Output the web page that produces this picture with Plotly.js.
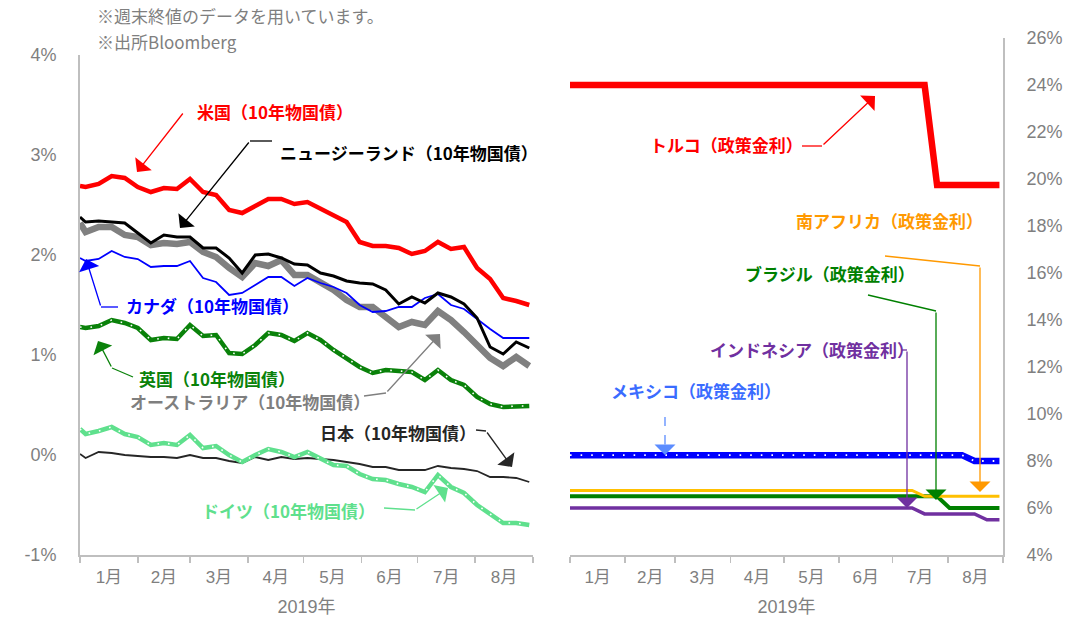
<!DOCTYPE html>
<html><head><meta charset="utf-8">
<script src="https://cdn.plot.ly/plotly-3.0.1.min.js"></script>
<style>body{margin:0;background:#fff}</style>
</head><body><div id="chart" style="width:1087px;height:622px"></div>
<script>
// ---- data ----
const dates=['2019-01-01','2019-01-04','2019-01-11','2019-01-18','2019-01-25','2019-02-01','2019-02-08','2019-02-15','2019-02-22','2019-03-01','2019-03-08','2019-03-15','2019-03-22','2019-03-29','2019-04-05','2019-04-12','2019-04-19','2019-04-26','2019-05-03','2019-05-10','2019-05-17','2019-05-24','2019-05-31','2019-06-07','2019-06-14','2019-06-21','2019-06-28','2019-07-05','2019-07-12','2019-07-19','2019-07-26','2019-08-02','2019-08-09','2019-08-16','2019-08-23','2019-08-30'];
const usBond=[2.69,2.68,2.71,2.79,2.77,2.68,2.63,2.67,2.66,2.76,2.63,2.60,2.45,2.42,2.49,2.56,2.56,2.51,2.53,2.46,2.39,2.33,2.13,2.09,2.09,2.07,2.01,2.04,2.13,2.06,2.08,1.87,1.76,1.57,1.54,1.50];
const nzBond=[2.38,2.33,2.34,2.33,2.32,2.22,2.12,2.20,2.18,2.18,2.07,2.07,1.97,1.82,2.00,2.01,1.97,1.91,1.90,1.82,1.79,1.74,1.72,1.71,1.65,1.51,1.58,1.52,1.62,1.58,1.51,1.37,1.08,1.01,1.13,1.07];
const auBond=[2.32,2.23,2.28,2.28,2.20,2.18,2.10,2.12,2.11,2.13,2.03,1.98,1.87,1.78,1.92,1.89,1.95,1.80,1.80,1.73,1.65,1.55,1.48,1.48,1.38,1.28,1.33,1.30,1.44,1.35,1.23,1.10,0.97,0.89,0.98,0.89];
const caBond=[1.97,1.94,1.96,2.04,1.98,1.96,1.88,1.89,1.89,1.94,1.77,1.73,1.60,1.62,1.70,1.78,1.78,1.69,1.77,1.72,1.68,1.62,1.50,1.43,1.44,1.48,1.48,1.57,1.61,1.50,1.46,1.36,1.26,1.17,1.17,1.17];
const ukBond=[1.28,1.27,1.29,1.35,1.32,1.27,1.15,1.17,1.16,1.30,1.19,1.20,1.02,1.01,1.10,1.22,1.20,1.14,1.22,1.15,1.05,0.97,0.88,0.82,0.85,0.84,0.83,0.75,0.85,0.75,0.70,0.58,0.51,0.48,0.49,0.49];
const deBond=[0.26,0.21,0.24,0.28,0.21,0.18,0.10,0.12,0.10,0.20,0.07,0.09,0.00,-0.07,0.00,0.06,0.03,-0.02,0.03,-0.04,-0.10,-0.11,-0.19,-0.24,-0.25,-0.29,-0.32,-0.37,-0.20,-0.32,-0.38,-0.50,-0.59,-0.68,-0.68,-0.70];
const jpBond=[0.01,-0.03,0.03,0.02,0.00,-0.01,-0.02,-0.02,-0.03,0.00,-0.03,-0.03,-0.06,-0.08,-0.02,-0.05,-0.02,-0.04,-0.03,-0.04,-0.05,-0.07,-0.09,-0.12,-0.12,-0.15,-0.15,-0.15,-0.11,-0.13,-0.14,-0.16,-0.22,-0.22,-0.23,-0.27];

const trRate=[24,24,24,24,24,24,24,24,24,24,24,24,24,24,24,24,24,24,24,24,24,24,24,24,24,24,24,24,24,24,19.75,19.75,19.75,19.75,19.75,19.75];
const mxRate=[8.25,8.25,8.25,8.25,8.25,8.25,8.25,8.25,8.25,8.25,8.25,8.25,8.25,8.25,8.25,8.25,8.25,8.25,8.25,8.25,8.25,8.25,8.25,8.25,8.25,8.25,8.25,8.25,8.25,8.25,8.25,8.25,8.25,8.0,8.0,8.0];
const zaRate=[6.75,6.75,6.75,6.75,6.75,6.75,6.75,6.75,6.75,6.75,6.75,6.75,6.75,6.75,6.75,6.75,6.75,6.75,6.75,6.75,6.75,6.75,6.75,6.75,6.75,6.75,6.75,6.75,6.75,6.5,6.5,6.5,6.5,6.5,6.5,6.5];
const brRate=[6.5,6.5,6.5,6.5,6.5,6.5,6.5,6.5,6.5,6.5,6.5,6.5,6.5,6.5,6.5,6.5,6.5,6.5,6.5,6.5,6.5,6.5,6.5,6.5,6.5,6.5,6.5,6.5,6.5,6.5,6.5,6.0,6.0,6.0,6.0,6.0];
const idRate=[6.0,6.0,6.0,6.0,6.0,6.0,6.0,6.0,6.0,6.0,6.0,6.0,6.0,6.0,6.0,6.0,6.0,6.0,6.0,6.0,6.0,6.0,6.0,6.0,6.0,6.0,6.0,6.0,6.0,5.75,5.75,5.75,5.75,5.75,5.5,5.5];

const leftTickVals=[-1,0,1,2,3,4];
const leftTickText=['-1%','0%','1%','2%','3%','4%'];
const rightTickVals=[4,6,8,10,12,14,16,18,20,22,24,26];
const rightTickText=['4%','6%','8%','10%','12%','14%','16%','18%','20%','22%','24%','26%'];

// ---- layout helpers (pixel -> paper) ----
const W=1087,H=622,L=80,R=84,T=38,B=67;
const PW=W-L-R, PH=H-T-B;
const px=x=>(x-L)/PW, py=y=>(H-B-y)/PH;
const JP="'Noto Sans CJK JP','Noto Sans',sans-serif";
const NUM="'Liberation Sans','Noto Sans CJK JP',sans-serif";

function tr(y,color,width,xa,ya,dash){
  return {x:dates,y:y,mode:'lines',xaxis:xa,yaxis:ya,hoverinfo:'skip',showlegend:false,
    line:{color:color,width:width,dash:dash||'solid',shape:'linear'}};
}
const dots=(y,xa,ya,w)=>tr(y,'#ffffff',w||1.6,xa,ya,'1.6px,9px');

const data=[
  tr(jpBond,'#262626',1.8,'x','y'),
  tr(deBond,'#5fe08d',4.5,'x','y'), dots(deBond,'x','y'),
  tr(ukBond,'#0a820a',4.5,'x','y'), dots(ukBond,'x','y'),
  tr(auBond,'#808080',6.5,'x','y'),
  tr(caBond,'#0000ff',1.8,'x','y'),
  tr(nzBond,'#000000',3,'x','y'),
  tr(usBond,'#ff0000',4.5,'x','y'),
  tr(idRate,'#7030a0',3.5,'x2','y2'),
  tr(brRate,'#008000',4,'x2','y2'),
  tr(zaRate,'#ffc000',3,'x2','y2'),
  tr(mxRate,'#0000ff',6.5,'x2','y2'), dots(mxRate,'x2','y2',1.8),
  tr(trRate,'#ff0000',6.5,'x2','y2')
];

// ---- annotations ----
const texts=[
  ['米国（10年物国債）',195,111,'#ff0000'],
  ['ニュージーランド（10年物国債）',278,152,'#000000'],
  ['カナダ（10年物国債）',124,305,'#0000ff'],
  ['英国（10年物国債）',137,378,'#0a820a'],
  ['オーストラリア（10年物国債）',128,401,'#7f7f7f'],
  ['日本（10年物国債）',318,432,'#262626'],
  ['ドイツ（10年物国債）',200,510,'#5fe08d'],
  ['トルコ（政策金利）',648,145,'#ff0000'],
  ['南アフリカ（政策金利）',794,220,'#ff9900'],
  ['ブラジル（政策金利）',743,273,'#008000'],
  ['インドネシア（政策金利）',708,349,'#7030a0'],
  ['メキシコ（政策金利）',609,390,'#3a6cff']
];
// arrows: [tailX, tailY, headX, headY, color]
const arrows=[
  [184,112,137,172,'#ff0000'],
  [250,141,180,228,'#000000'],
  [101,307,86,259,'#0000ff'],
  [112,368,98,341,'#0a820a'],
  [386,393,440,334,'#7f7f7f'],
  [486,431,512,467,'#262626'],
  [415,510,448,488,'#5fe08d'],
  [822,146,875,96,'#ff0000'],
  [980,266,980,492,'#ff9900'],
  [936,311,936,500,'#008000'],
  [907,350,907,508,'#7030a0'],
  [665,443,665,455,'#5b8cff']
];
// connector segments: [x0,y0,x1,y1,color,dash]
const segs=[
  [272,141,250,141,'#000000'],
  [118,307,101,307,'#0000ff'],
  [133,377,112,368,'#0a820a'],
  [364,396,386,393,'#7f7f7f'],
  [476,430,486,431,'#262626'],
  [384,508,415,510,'#5fe08d'],
  [802,146,822,146,'#ff0000'],
  [885,256,980,266,'#ff9900'],
  [868,295,936,311,'#008000'],
  [902,350,907,350,'#7030a0'],
  [665,417,665,445,'#5b8cff','dash']
];

const annotations=[];
texts.forEach(t=>annotations.push({text:t[0],xref:'paper',yref:'paper',x:px(t[1]),y:py(t[2]),
  xanchor:'left',yanchor:'middle',showarrow:false,font:{family:JP,size:17,color:t[3],weight:'bold'}}));
arrows.forEach(a=>annotations.push({text:'',xref:'paper',yref:'paper',x:px(a[2]),y:py(a[3]),
  ax:a[0]-a[2],ay:a[1]-a[3],axref:'pixel',ayref:'pixel',showarrow:true,arrowhead:1,arrowsize:2.7,arrowwidth:1.3,arrowcolor:a[4],standoff:0,startstandoff:0}));
annotations.push({text:'※週末終値のデータを用いています。',xref:'paper',yref:'paper',x:px(95),y:py(15),xanchor:'left',yanchor:'middle',showarrow:false,font:{family:JP,size:17,color:'#7f7f7f'}});
annotations.push({text:'※出所Bloomberg',xref:'paper',yref:'paper',x:px(95),y:py(42),xanchor:'left',yanchor:'middle',showarrow:false,font:{family:JP,size:17,color:'#7f7f7f'}});

const shapes=segs.map(s=>({type:'line',xref:'paper',yref:'paper',x0:px(s[0]),y0:py(s[1]),x1:px(s[2]),y1:py(s[3]),
  line:{color:s[4],width:1.3,dash:s[5]||'solid'}}));

const xBase={type:'date',range:['2019-01-01','2019-09-01'],dtick:'M1',tick0:'2019-01-01',tickformat:'%-m月',
  ticklabelmode:'period',ticks:'outside',ticklen:6,tickcolor:'#bfbfbf',tickwidth:1.5,showline:true,linecolor:'#bfbfbf',
  linewidth:2,showgrid:false,zeroline:false,tickfont:{family:NUM,size:17,color:'#7f7f7f'},
  title:{text:'2019年',font:{family:NUM,size:18,color:'#7f7f7f'},standoff:14}};

const layout={
  width:W,height:H,margin:{l:L,r:R,t:T,b:B},paper_bgcolor:'#fff',plot_bgcolor:'rgba(0,0,0,0)',showlegend:false,
  xaxis:Object.assign({},xBase,{domain:[0,px(533)],anchor:'y'}),
  xaxis2:Object.assign({},xBase,{domain:[px(570),1],anchor:'y2'}),
  yaxis:{domain:[0,py(55)],range:[-1,4],tickmode:'array',tickvals:leftTickVals,ticktext:leftTickText,anchor:'x',
    showline:true,linecolor:'#bfbfbf',linewidth:2,showgrid:false,zeroline:false,ticks:'',ticklabelstandoff:18,
    tickfont:{family:NUM,size:18,color:'#7f7f7f'}},
  yaxis2:{domain:[0,1],range:[4,26],tickmode:'array',tickvals:rightTickVals,ticktext:rightTickText,anchor:'x2',side:'right',
    showline:true,linecolor:'#bfbfbf',linewidth:2,showgrid:false,zeroline:false,ticks:'',ticklabelstandoff:18,
    tickfont:{family:NUM,size:18,color:'#7f7f7f'}},
  annotations:annotations,shapes:shapes
};
Plotly.newPlot('chart',data,layout,{staticPlot:true,displayModeBar:false});
</script></body></html>
